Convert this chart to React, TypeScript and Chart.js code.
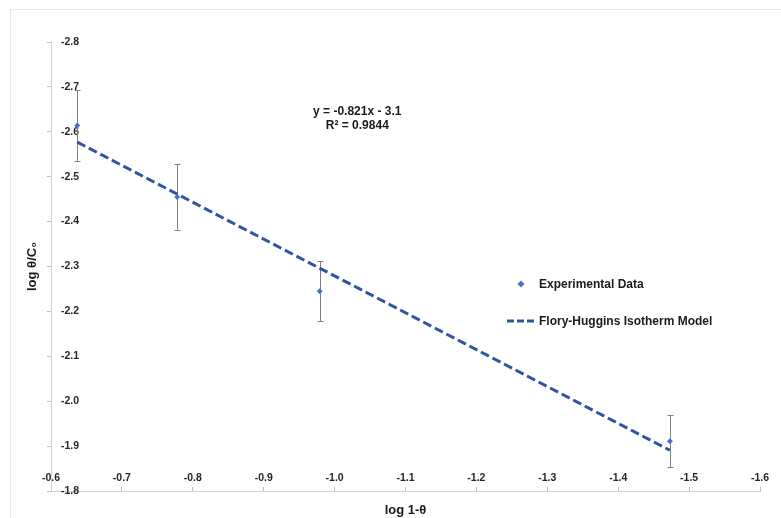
import React, { useEffect, useRef } from "react";
import { Chart, registerables } from "chart.js";

Chart.register(...registerables);

// Measured data: log(1-θ) vs log(θ/C0) with standard deviations
const logOneMinusTheta = [-0.637, -0.778, -0.979, -1.473];
const logThetaOverC0 = [-2.614, -2.455, -2.245, -1.911];
const errorMargins = [0.079, 0.073, 0.067, 0.058];

// Axis extents and tick step (both axes run reversed)
const xRange = [-1.6, -0.6];
const yRange = [-2.8, -1.8];
const tickStep = 0.1;

// Linear fit reported for the model
const fitSlope = -0.821;
const fitIntercept = -3.1;
const fitRSquared = 0.9844;

const seriesNames = ["Experimental Data", "Flory-Huggins Isotherm Model"];
const axisTitles = ["log 1-θ", "log θ/C₀"];

const FONT = "'Liberation Sans', Arial, Helvetica, sans-serif";
const POINT_COLOR = "#4472C4";
const LINE_COLOR = "#2F55A2";
const ERROR_COLOR = "#7f7f7f";
const TEXT_COLOR = "#1a1a1a";

const equationText = `y = ${fitSlope}x ${fitIntercept < 0 ? "-" : "+"} ${Math.abs(fitIntercept)}`;
const rSquaredText = `R² = ${fitRSquared}`;

const framePlugin = {
  id: "frame",
  beforeDraw(chart: any) {
    const { ctx, width, height } = chart;
    ctx.save();
    ctx.fillStyle = "#ffffff";
    ctx.fillRect(0, 0, width, height);
    ctx.strokeStyle = "#e6e6e6";
    ctx.lineWidth = 1;
    ctx.strokeRect(10.5, 9.5, width + 10, height + 10);
    ctx.restore();
  },
};

const errorBarPlugin = {
  id: "errorBars",
  beforeDatasetsDraw(chart: any) {
    const { ctx, scales } = chart;
    const xs = scales.x;
    const ys = scales.y;
    ctx.save();
    ctx.strokeStyle = ERROR_COLOR;
    ctx.lineWidth = 1;
    logOneMinusTheta.forEach((xv, i) => {
      const px = Math.round(xs.getPixelForValue(xv)) + 0.5;
      const top = ys.getPixelForValue(logThetaOverC0[i] - errorMargins[i]);
      const bottom = ys.getPixelForValue(logThetaOverC0[i] + errorMargins[i]);
      ctx.beginPath();
      ctx.moveTo(px, top);
      ctx.lineTo(px, bottom);
      ctx.moveTo(px - 3, Math.round(top) + 0.5);
      ctx.lineTo(px + 3, Math.round(top) + 0.5);
      ctx.moveTo(px - 3, Math.round(bottom) + 0.5);
      ctx.lineTo(px + 3, Math.round(bottom) + 0.5);
      ctx.stroke();
    });
    ctx.restore();
  },
};

const annotationPlugin = {
  id: "annotations",
  afterDraw(chart: any) {
    const { ctx, scales, chartArea } = chart;
    ctx.save();
    ctx.fillStyle = TEXT_COLOR;
    ctx.font = `bold 12px ${FONT}`;
    ctx.textBaseline = "middle";

    // fit equation, anchored in data space
    const ex = scales.x.getPixelForValue(-1.032);
    const ey = scales.y.getPixelForValue(-2.644);
    ctx.textAlign = "center";
    ctx.fillText(equationText, ex, ey);
    ctx.fillText(rSquaredText, ex, ey + 14);

    // legend
    const lx = chartArea.left + 456;
    const ly1 = chartArea.top + 242;
    const ly2 = chartArea.top + 279;
    ctx.textAlign = "left";
    ctx.fillText(seriesNames[0], lx + 32, ly1 + 1);
    ctx.fillText(seriesNames[1], lx + 32, ly2 + 1);

    ctx.fillStyle = POINT_COLOR;
    ctx.beginPath();
    ctx.moveTo(lx + 14, ly1 - 3.5);
    ctx.lineTo(lx + 17.5, ly1);
    ctx.lineTo(lx + 14, ly1 + 3.5);
    ctx.lineTo(lx + 10.5, ly1);
    ctx.closePath();
    ctx.fill();

    ctx.strokeStyle = LINE_COLOR;
    ctx.lineWidth = 3;
    ctx.setLineDash([7, 3]);
    ctx.beginPath();
    ctx.moveTo(lx, ly2);
    ctx.lineTo(lx + 28, ly2);
    ctx.stroke();
    ctx.restore();
  },
};

export default function App() {
  const canvasRef = useRef<HTMLCanvasElement | null>(null);

  useEffect(() => {
    if (!canvasRef.current) return;
    Chart.defaults.font.family = FONT;

    const points = logOneMinusTheta.map((x, i) => ({ x, y: logThetaOverC0[i] }));
    const fitEnds = [logOneMinusTheta[0], logOneMinusTheta[logOneMinusTheta.length - 1]];
    const fitLine = fitEnds.map((x) => ({ x, y: fitSlope * x + fitIntercept }));

    const tickFont = { size: 10.5, weight: "bold" as const, family: FONT };
    const titleFont = { size: 13, weight: "bold" as const, family: FONT };
    const fmt = (v: any) => Number(v).toFixed(1);

    const chart = new Chart(canvasRef.current, {
      type: "scatter",
      data: {
        datasets: [
          {
            label: seriesNames[0],
            data: points,
            pointStyle: "rectRot",
            pointRadius: 3,
            backgroundColor: POINT_COLOR,
            borderColor: POINT_COLOR,
            borderWidth: 0,
            order: 1,
          },
          {
            label: seriesNames[1],
            data: fitLine,
            showLine: true,
            borderColor: LINE_COLOR,
            borderWidth: 3,
            borderDash: [9, 4],
            pointRadius: 0,
            fill: false,
            order: 2,
          },
        ],
      },
      options: {
        animation: false,
        responsive: false,
        devicePixelRatio: 1,
        layout: { padding: { left: 0, top: 42, right: 21, bottom: 0 } },
        plugins: {
          legend: { display: false },
          tooltip: { enabled: false },
        },
        scales: {
          x: {
            type: "linear",
            position: "bottom",
            reverse: true,
            min: xRange[0],
            max: xRange[1],
            ticks: {
              stepSize: tickStep,
              mirror: true,
              padding: 7,
              callback: fmt,
              font: tickFont,
              color: "#262626",
              maxRotation: 0,
              autoSkip: false,
            },
            grid: { drawOnChartArea: false, drawTicks: true, tickLength: -4, color: "#bfbfbf" },
            border: { display: true, color: "#d0d0d0", width: 1 },
            title: {
              display: true,
              text: axisTitles[0],
              font: titleFont,
              color: TEXT_COLOR,
              padding: { top: 0, bottom: 0 },
            },
            afterFit: (s: any) => {
              s.height = 27;
            },
          },
          y: {
            type: "linear",
            position: "left",
            reverse: true,
            min: yRange[0],
            max: yRange[1],
            ticks: {
              stepSize: tickStep,
              mirror: true,
              padding: 10,
              callback: fmt,
              font: tickFont,
              color: "#262626",
            },
            grid: { drawOnChartArea: false, drawTicks: true, tickLength: 4, color: "#bfbfbf" },
            border: { display: true, color: "#d0d0d0", width: 1 },
            title: {
              display: true,
              text: axisTitles[1],
              font: titleFont,
              color: TEXT_COLOR,
              padding: { top: 25, bottom: 0 },
            },
            afterFit: (s: any) => {
              s.width = 51;
            },
          },
        },
      },
      plugins: [framePlugin, errorBarPlugin, annotationPlugin],
    });

    return () => chart.destroy();
  }, []);

  return (
    <div style={{ position: "fixed", left: 0, top: 0, width: 781, height: 518, background: "#fff" }}>
      <canvas ref={canvasRef} width={781} height={518} />
    </div>
  );
}
